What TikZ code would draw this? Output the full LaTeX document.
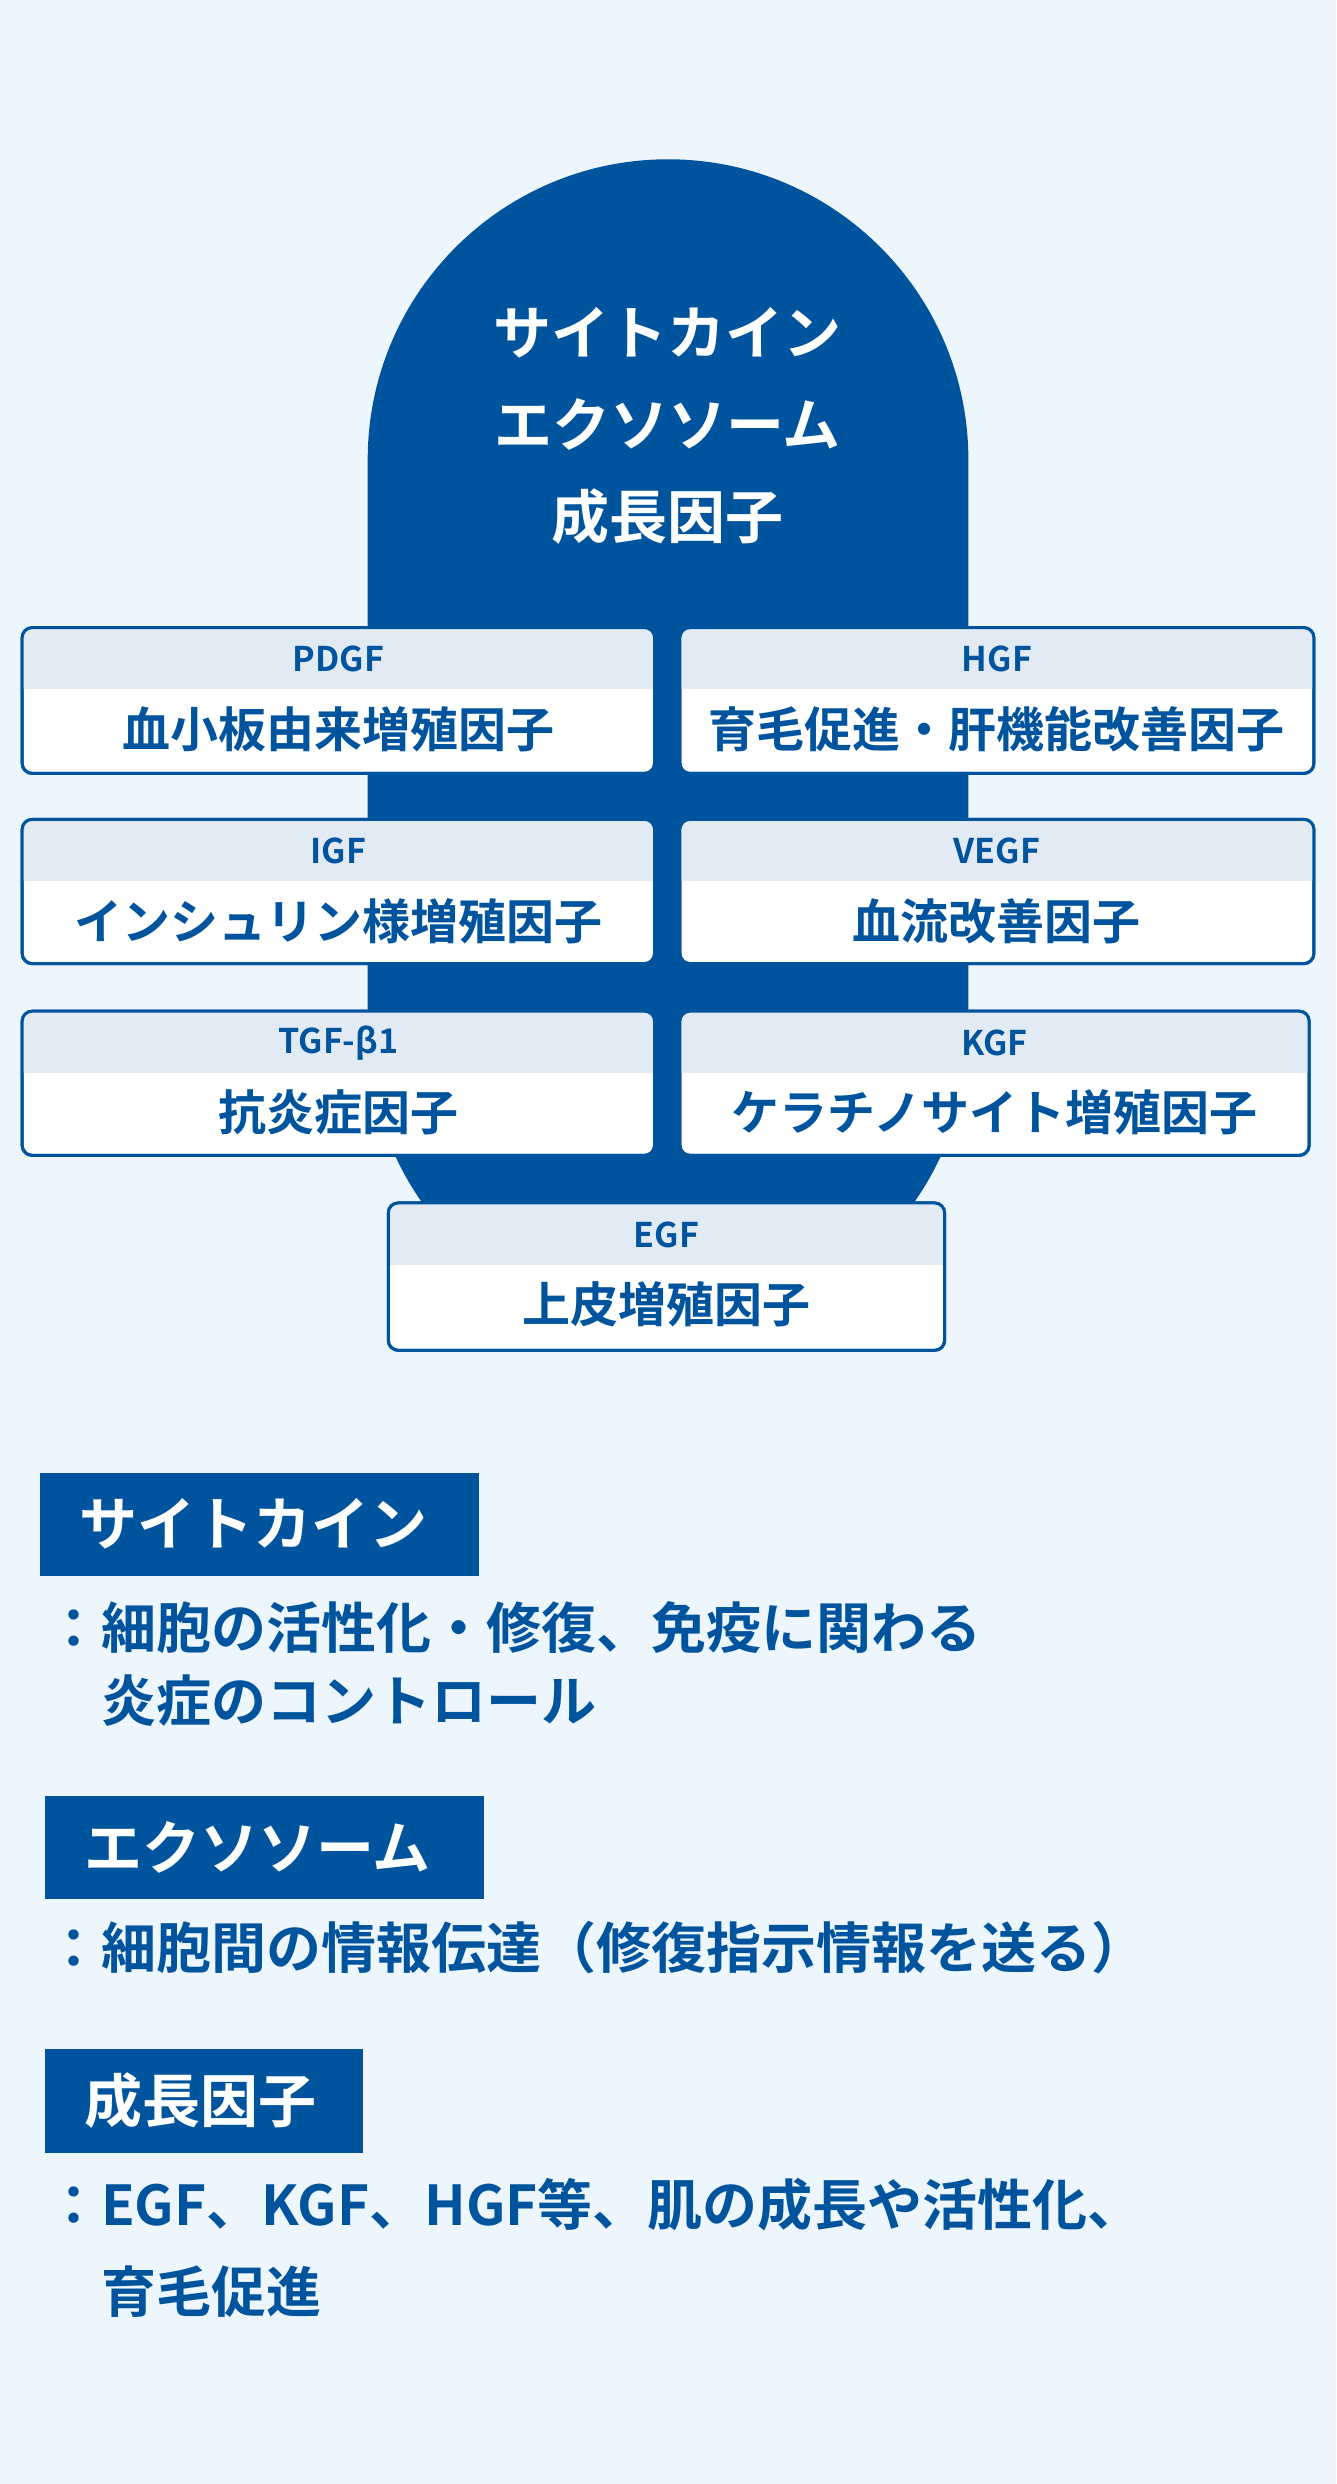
\documentclass[tikz,border=0pt]{standalone}
\usepackage{fontspec}
\setmainfont{Noto Sans CJK JP}[BoldFont={* Bold}]
\newfontfamily\jpb{Noto Sans CJK JP Bold}
\definecolor{dblue}{RGB}{0,84,158}
\definecolor{bgc}{RGB}{237,245,253}
\definecolor{band}{RGB}{226,234,243}
\tikzset{
  gbox/.style={draw=dblue,line width=3pt,fill=white,rounded corners=10pt,inner sep=0pt},
  htext/.style={text=dblue,font=\jpb\fontsize{34}{40}\selectfont,inner sep=0pt},
  mtext/.style={text=dblue,font=\jpb\fontsize{48}{56}\selectfont,inner sep=0pt},
  lbox/.style={fill=dblue,inner sep=0pt,anchor=north west},
  ltext/.style={text=white,font=\jpb\fontsize{58}{66}\selectfont,inner sep=0pt,anchor=west},
  dtext/.style={text=dblue,inner sep=0pt,anchor=west,align=left}
}
\newcommand{\gfbox}[7]{%
  \node[gbox,minimum width={(#4-#2)*1.585pt},minimum height={(#5-#3)*1.585pt}] (#1) at ({(#2+#4)/2},{(#3+#5)/2}) {};
  \begin{scope}
    \clip[rounded corners=10pt] (#2,#3) rectangle (#4,#5);
    \fill[band] (#2,#3) rectangle (#4,#3+39);
  \end{scope}
  \draw[dblue,line width=3pt,rounded corners=10pt] (#2,#3) rectangle (#4,#5);
  \node[htext] (#1-h) at ({(#2+#4)/2},#3+20) {#6};
  \node[mtext] (#1-t) at ({(#2+#4)/2},#3+64) {#7};
}
\begin{document}
\begin{tikzpicture}[x=1.585pt,y=-1.585pt]
\fill[bgc] (0,0) rectangle (843,1567.3);
\useasboundingbox (0,0) rectangle (843,1567.3);
% pill
\fill[dblue] (232,290) arc[start angle=180,end angle=360,radius=189.5] -- (611,650) arc[start angle=0,end angle=180,radius=189.5] -- cycle;
\node[text=white,font=\jpb\fontsize{58}{92}\selectfont,align=center,inner sep=0pt] (title) at (421,269) {サイトカイン\\エクソソーム\\成長因子};
\gfbox{pdgf}{14}{396}{413}{488}{PDGF}{血小板由来増殖因子}
\gfbox{hgf}{429}{396}{829}{488}{HGF}{育毛促進・肝機能改善因子}
\gfbox{igf}{14}{517}{413}{608}{IGF}{インシュリン様増殖因子}
\gfbox{vegf}{429}{517}{829}{608}{VEGF}{血流改善因子}
\gfbox{tgf}{14}{638}{413}{729}{TGF-β1}{抗炎症因子}
\gfbox{kgf}{429}{638}{826}{729}{KGF}{ケラチノサイト増殖因子}
\gfbox{egf}{245}{759}{596}{852}{EGF}{上皮増殖因子}
% bottom
\node[lbox,minimum width={277*1.585pt},minimum height={65*1.585pt}] (l1) at (25,929) {};
\node[ltext] (l1t) at (50,961.5) {サイトカイン};
\node[dtext,font=\jpb\fontsize{55}{73}\selectfont] (d1) at (29,1050) {：細胞の活性化・修復、免疫に関わる\\\hspace*{1em}炎症のコントロール};
\node[lbox,minimum width={277*1.585pt},minimum height={65*1.585pt}] (l2) at (28,1133) {};
\node[ltext] (l2t) at (53,1165.5) {エクソソーム};
\node[dtext,font=\jpb\fontsize{55}{73}\selectfont] (d2) at (29,1229) {：細胞間の情報伝達（修復指示情報を送る）};
\node[lbox,minimum width={201*1.585pt},minimum height={65*1.585pt}] (l3) at (28,1293) {};
\node[ltext] (l3t) at (53,1325.5) {成長因子};
\node[dtext,font=\jpb\fontsize{55}{87}\selectfont] (d3) at (29,1418) {：EGF、KGF、HGF等、肌の成長や活性化、\\\hspace*{1em}育毛促進};
\end{tikzpicture}
\end{document}
